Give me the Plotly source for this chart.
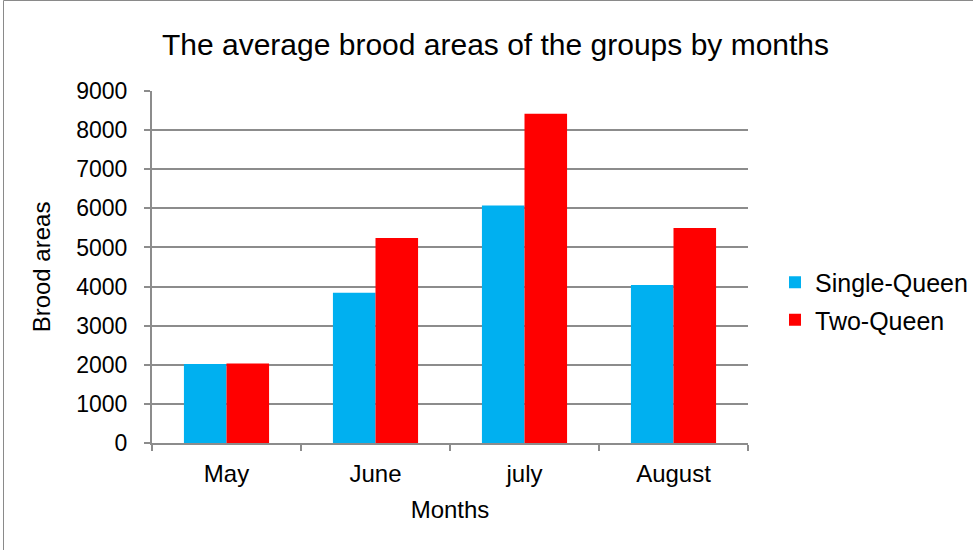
import plotly.graph_objects as go

months = ["May", "June", "july", "August"]
single_queen = [2020, 3840, 6070, 4040]
two_queen = [2030, 5240, 8420, 5500]
y_ticks = [0, 1000, 2000, 3000, 4000, 5000, 6000, 7000, 8000, 9000]

W, H = 973, 550
L, R, T, B = 152, 225, 91, 107
pw, ph = W - L - R, H - T - B

FONT = "Liberation Sans, Arial, sans-serif"
GRID = "#8c8c8c"

fig = go.Figure()
fig.add_trace(go.Bar(x=months, y=single_queen, name="Single-Queen", legendgroup="a",
                     marker=dict(color="#00B0F0", line=dict(width=0))))
fig.add_trace(go.Bar(x=months, y=two_queen, name="Two-Queen", legendgroup="b",
                     marker=dict(color="#FF0000", line=dict(width=0))))

# outer chart border
fig.add_shape(type="rect", xref="paper", yref="paper",
              x0=(3.5 - L) / pw, x1=(990 - L) / pw,
              y0=(H - B - 570) / ph, y1=(H - B - 0.5) / ph,
              line=dict(color="#8a8a8a", width=1), fillcolor="rgba(0,0,0,0)", layer="below")

fig.update_layout(
    width=W, height=H,
    margin=dict(l=L, r=R, t=T, b=B, autoexpand=False),
    paper_bgcolor="white", plot_bgcolor="white",
    barmode="group", bargap=1.5 / 3.5, bargroupgap=0,
    font=dict(family=FONT, color="black", size=22),
    title=dict(text="The average brood areas of the groups by months",
               x=495.5 / W, xanchor="center", xref="container",
               y=1 - 44 / H, yanchor="middle", yref="container",
               font=dict(size=30, family=FONT, color="black")),
    legend=dict(x=(775 - L) / pw, xanchor="left", y=(H - B - 301) / ph, yanchor="middle",
                font=dict(size=25, family=FONT, color="black"),
                bgcolor="rgba(0,0,0,0)", traceorder="grouped", tracegroupgap=2),
    xaxis=dict(
        title=dict(text="Months", font=dict(size=24, family=FONT, color="black"), standoff=15),
        tickfont=dict(size=24, family=FONT, color="black"),
        showline=True, linecolor=GRID, linewidth=2,
        ticks="outside", ticklen=6, tickcolor=GRID, tickwidth=1.5,
        tickson="boundaries", showgrid=False, zeroline=False,
        ticklabelstandoff=8,
    ),
    yaxis=dict(
        title=dict(text="Brood areas", font=dict(size=24, family=FONT, color="black"), standoff=19),
        tickfont=dict(size=23, family=FONT, color="black"),
        range=[0, 9000], tickvals=y_ticks, ticktext=[str(v) for v in y_ticks],
        showline=True, linecolor=GRID, linewidth=2,
        ticks="outside", ticklen=6, tickcolor=GRID, tickwidth=1.5,
        ticklabelstandoff=12,
        showgrid=True, gridcolor=GRID, gridwidth=1.5, zeroline=False,
    ),
)

fig.write_html("out.html", config={"displayModeBar": False},
               post_script="document.body.style.margin='0';document.body.style.padding='0';")
